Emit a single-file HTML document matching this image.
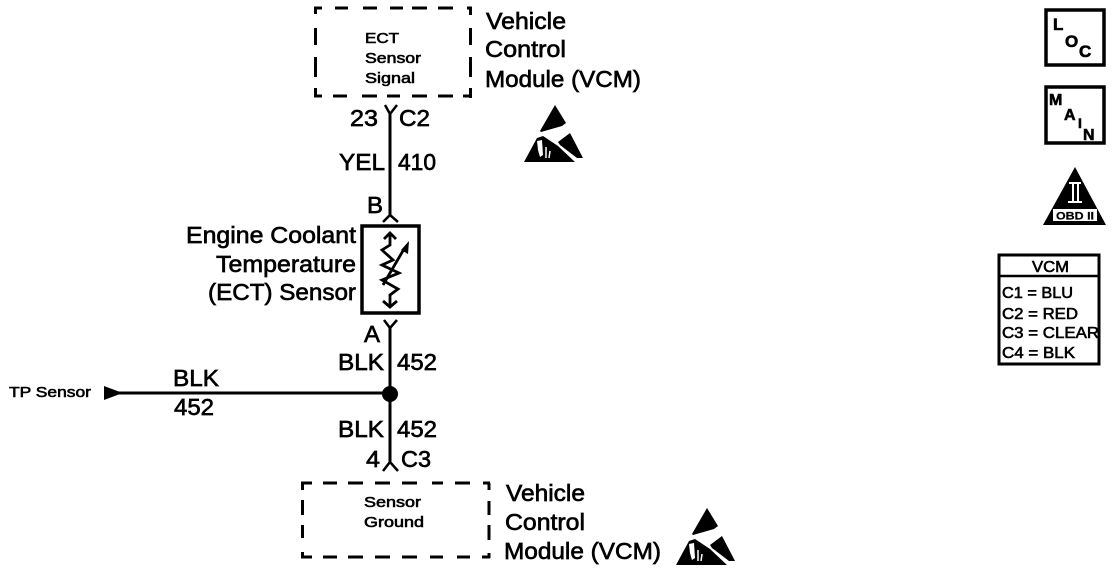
<!DOCTYPE html>
<html>
<head>
<meta charset="utf-8">
<style>
html,body{margin:0;padding:0;background:#fff;width:1120px;height:570px;overflow:hidden}
svg{display:block}
text{font-family:"Liberation Sans",sans-serif;fill:#000;stroke:#000;stroke-width:.65px}
.s{stroke-width:.6px}
</style>
</head>
<body>
<svg width="1120" height="570" viewBox="0 0 1120 570">
<defs>
<g id="esd">
<polygon points="31,0 42,18 38,21 17,27 16,26"/>
<polygon points="0,57 13,33 19,31 34,41 51,57"/>
<polygon points="34,37 46,28 59,53 53,53 36,40"/>
<polygon points="13,36 18,35 19,50 16,52 14,45" fill="#fff"/>
<path d="M22,42 L22,53 M26,46 L25,53" stroke="#fff" stroke-width="1.500" fill="none"/>
</g>
</defs>

<!-- Top dashed box -->
<path fill="none" stroke="#000" stroke-width="3" d="M314,8H322 M335,8H348 M363,8H377 M390,8H403 M412,8H427 M438,8H453 M467,8H472
M314,96H322 M333,96H347 M362,96H377 M387,96H400 M412,96H427 M438,96H453 M463,96H472
M315.500,7V14 M315.500,28V45 M315.500,57V77 M315.500,88V97
M470.500,7V15 M470.500,28V45 M470.500,57V77 M470.500,88V98"/>
<text class="s" x="365" y="43" font-size="14.500" textLength="34" lengthAdjust="spacingAndGlyphs">ECT</text>
<text class="s" x="365" y="63" font-size="14.500" textLength="56" lengthAdjust="spacingAndGlyphs">Sensor</text>
<text class="s" x="365" y="83" font-size="14.500" textLength="50" lengthAdjust="spacingAndGlyphs">Signal</text>
<text x="486" y="29" font-size="23" textLength="80" lengthAdjust="spacingAndGlyphs">Vehicle</text>
<text x="485" y="57" font-size="23" textLength="81" lengthAdjust="spacingAndGlyphs">Control</text>
<text x="485" y="87" font-size="23" textLength="156" lengthAdjust="spacingAndGlyphs">Module (VCM)</text>
<use href="#esd" x="524" y="105"/>

<!-- Main wire -->
<g fill="none" stroke="#000" stroke-width="3">
<path d="M390,112 V216"/>
<path d="M385,105 L390,114 L397,105" stroke-width="2.500"/>
<path d="M383,222 L390,215 L398,222" stroke-width="2.500"/>
<path d="M390,326 V464"/>
<path d="M384,320 L390,328 L397,320" stroke-width="2.500"/>
<path d="M383,471 L390,462 L398,471" stroke-width="2.500"/>
<path d="M112,393 H390"/>
</g>
<circle cx="390" cy="394" r="8"/>
<polygon points="104,386 120,392 120,394 104,400"/>

<text x="350" y="126" font-size="23" textLength="28" lengthAdjust="spacingAndGlyphs">23</text>
<text x="399" y="126" font-size="23" textLength="31" lengthAdjust="spacingAndGlyphs">C2</text>
<text x="339" y="170" font-size="23" textLength="46" lengthAdjust="spacingAndGlyphs">YEL</text>
<text x="398" y="170" font-size="23" textLength="38" lengthAdjust="spacingAndGlyphs">410</text>
<text x="367" y="213" font-size="23" textLength="16" lengthAdjust="spacingAndGlyphs">B</text>

<!-- Sensor -->
<rect x="362" y="226" width="57" height="87" fill="none" stroke="#000" stroke-width="3.500"/>
<g fill="none" stroke="#000" stroke-width="2.800">
<path d="M390,233 V245 L382,250 L393,260 L382,265 L399,273 L382,280 L398,289 L390,295 V307"/>
<path d="M384,239 L390,233 L396,239"/>
<path d="M383,301 L390,307 L397,301"/>
<path d="M383,285 L404,249"/>
</g>
<polygon points="409,241 408,254 401,250"/>

<text x="356" y="243" font-size="23" text-anchor="end" textLength="170" lengthAdjust="spacingAndGlyphs">Engine Coolant</text>
<text x="356" y="272" font-size="23" text-anchor="end" textLength="140" lengthAdjust="spacingAndGlyphs">Temperature</text>
<text x="356" y="300" font-size="23" text-anchor="end" textLength="148" lengthAdjust="spacingAndGlyphs">(ECT) Sensor</text>

<text x="364" y="342" font-size="23" textLength="16" lengthAdjust="spacingAndGlyphs">A</text>
<text x="338" y="370" font-size="23" textLength="46" lengthAdjust="spacingAndGlyphs">BLK</text>
<text x="397" y="370" font-size="23" textLength="40" lengthAdjust="spacingAndGlyphs">452</text>
<text x="338" y="437" font-size="23" textLength="46" lengthAdjust="spacingAndGlyphs">BLK</text>
<text x="397" y="437" font-size="23" textLength="40" lengthAdjust="spacingAndGlyphs">452</text>
<text x="366" y="467" font-size="23" textLength="14" lengthAdjust="spacingAndGlyphs">4</text>
<text x="401" y="467" font-size="23" textLength="30" lengthAdjust="spacingAndGlyphs">C3</text>

<text x="173" y="386" font-size="23" textLength="46" lengthAdjust="spacingAndGlyphs">BLK</text>
<text x="174" y="415" font-size="23" textLength="40" lengthAdjust="spacingAndGlyphs">452</text>
<text class="s" x="9" y="397" font-size="14.500" textLength="82" lengthAdjust="spacingAndGlyphs">TP Sensor</text>

<!-- Bottom dashed box -->
<path fill="none" stroke="#000" stroke-width="3" d="M301,483H312 M323,483H337 M348,483H363 M375,483H390 M402,483H417 M432,483H443 M455,483H470 M483,483H490
M301,557H312 M323,557H337 M348,557H363 M375,557H390 M402,557H417 M430,557H443 M457,557H470 M482,557H490
M302.500,482V490 M302.500,500V515 M302.500,525V538 M302.500,552V558
M489,483V490 M489,501V515 M489,525V540 M489,553V558"/>
<text class="s" x="364" y="507" font-size="14.500" textLength="57" lengthAdjust="spacingAndGlyphs">Sensor</text>
<text class="s" x="364" y="527" font-size="14.500" textLength="60" lengthAdjust="spacingAndGlyphs">Ground</text>
<text x="506" y="501" font-size="23" textLength="79" lengthAdjust="spacingAndGlyphs">Vehicle</text>
<text x="505" y="530" font-size="23" textLength="80" lengthAdjust="spacingAndGlyphs">Control</text>
<text x="504" y="559" font-size="23" textLength="157" lengthAdjust="spacingAndGlyphs">Module (VCM)</text>
<use href="#esd" x="676" y="508"/>

<!-- LOC -->
<rect x="1046" y="10" width="58" height="55" fill="none" stroke="#000" stroke-width="3.500"/>
<text x="1053" y="30" font-size="17" font-weight="bold" class="s">L</text>
<text x="1065" y="47" font-size="17" font-weight="bold" class="s">O</text>
<text x="1079" y="57" font-size="17" font-weight="bold" class="s">C</text>

<!-- MAIN -->
<rect x="1046" y="87" width="58" height="56" fill="none" stroke="#000" stroke-width="3.500"/>
<text x="1049" y="105" font-size="16" font-weight="bold" class="s">M</text>
<text x="1064" y="120" font-size="16" font-weight="bold" class="s">A</text>
<text x="1078" y="128" font-size="14" font-weight="bold" class="s">I</text>
<text x="1083" y="140" font-size="16" font-weight="bold" class="s">N</text>

<!-- OBD II triangle -->
<polygon points="1075,167 1106,225 1043,225"/>
<rect x="1053" y="209" width="44" height="12" fill="#fff"/>
<text x="1056" y="219.500" font-size="11" font-weight="bold" textLength="38" lengthAdjust="spacingAndGlyphs" style="stroke-width:.2px">OBD II</text>
<g fill="#fff">
<rect x="1069" y="182" width="12" height="2"/>
<rect x="1072" y="184" width="2" height="17"/>
<rect x="1077" y="184" width="2" height="17"/>
<rect x="1068" y="201" width="14" height="2"/>
</g>

<!-- VCM table -->
<rect x="999" y="255" width="100" height="109" fill="none" stroke="#000" stroke-width="3"/>
<path d="M999,276 H1099" stroke="#000" stroke-width="2.500"/>
<text class="s" x="1032" y="272" font-size="15.500" textLength="37" lengthAdjust="spacingAndGlyphs">VCM</text>
<text class="s" x="1002" y="298" font-size="15.500" textLength="71" lengthAdjust="spacingAndGlyphs">C1 = BLU</text>
<text class="s" x="1002" y="319" font-size="15.500" textLength="76" lengthAdjust="spacingAndGlyphs">C2 = RED</text>
<text class="s" x="1002" y="338" font-size="15.500" textLength="97" lengthAdjust="spacingAndGlyphs">C3 = CLEAR</text>
<text class="s" x="1002" y="358" font-size="15.500" textLength="73" lengthAdjust="spacingAndGlyphs">C4 = BLK</text>
</svg>
</body>
</html>
